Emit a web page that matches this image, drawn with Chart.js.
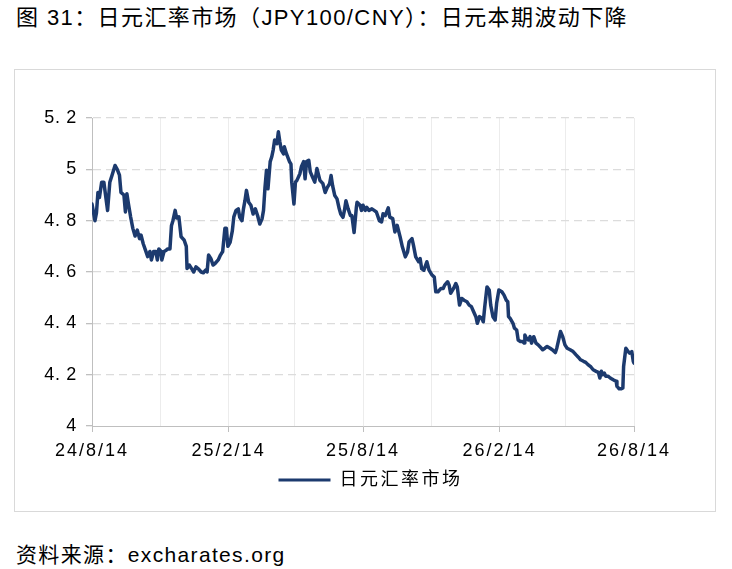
<!DOCTYPE html>
<html><head><meta charset="utf-8">
<script src="https://cdn.jsdelivr.net/npm/chart.js@4.4.1/dist/chart.umd.min.js"></script>
<style>
html,body{margin:0;padding:0;background:#fff;width:732px;height:569px;overflow:hidden;}
body{position:relative;font-family:"Liberation Sans","Noto Sans CJK SC",sans-serif;color:#000;}
#title{position:absolute;left:16px;top:5px;font-size:22px;line-height:25px;letter-spacing:1.4px;white-space:nowrap;}
#box{position:absolute;left:14px;top:69px;width:700px;height:441px;border:1px solid #d9d9d9;}
#src{position:absolute;left:16px;top:542px;font-size:21px;line-height:25px;letter-spacing:1.35px;white-space:nowrap;}
</style></head>
<body>
<div id="title">图 31：日元汇率市场（JPY100/CNY）：日元本期波动下降</div>
<div id="box"><canvas id="c"></canvas></div>
<div id="src">资料来源：excharates.org</div>
<script>
// ---- data ----
const seriesName = '日元汇率市场';
// days since 2024-08-14
const days = [0,4,6,8,10,13,16,18,21,24,27,31,34,37,39,43,45,47,49,52,55,58,61,64,66,69,72,75,78,80,83,86,88,90,93,94,97,100,102,105,107,109,112,114,117,120,124,127,128,131,134,137,140,144,147,150,153,155,157,160,163,166,170,173,176,179,181,183,186,189,191,194,197,199,202,204,206,208,211,214,217,220,223,226,229,231,233,235,237,240,242,244,246,249,251,253,255,258,259,262,266,268,269,272,274,276,280,282,285,287,289,292,294,297,300,303,307,311,314,317,320,322,324,327,330,333,335,338,340,342,345,348,350,353,356,357,361,363,365,368,370,373,377,380,383,387,390,392,395,399,401,405,408,411,415,418,422,425,427,431,433,436,440,442,444,447,451,454,458,461,463,466,470,473,475,479,481,483,487,490,492,495,498,501,505,508,511,514,517,519,522,525,527,529,532,535,537,540,543,545,548,552,555,558,560,561,563,567,569,572,574,577,580,582,583,585,588,590,592,595,598,601,603,607,610,613,617,620,624,626,628,631,634,637,640,644,648,652,655,658,662,665,668,672,675,679,682,684,686,688,690,692,695,698,702,706,707,710,713,715,716,719,722,724,727,729,730];
const rates = [4.865,4.80,4.83,4.91,4.89,4.95,4.95,4.905,4.84,4.95,4.977,5.015,5.0,4.977,4.91,4.90,4.834,4.905,4.867,4.815,4.77,4.74,4.763,4.73,4.744,4.71,4.685,4.66,4.68,4.647,4.68,4.68,4.647,4.69,4.68,4.647,4.68,4.685,4.69,4.69,4.78,4.80,4.84,4.81,4.815,4.737,4.725,4.70,4.614,4.627,4.614,4.60,4.62,4.61,4.60,4.597,4.607,4.60,4.666,4.653,4.627,4.634,4.647,4.666,4.68,4.77,4.77,4.70,4.715,4.76,4.815,4.84,4.846,4.813,4.80,4.846,4.878,4.918,4.872,4.86,4.826,4.846,4.82,4.787,4.807,4.84,4.93,4.996,4.924,5.03,5.048,5.075,5.114,5.10,5.146,5.107,5.075,5.06,5.088,5.06,5.03,5.02,4.95,4.865,4.95,4.957,4.983,5.01,5.03,4.963,5.03,5.035,4.99,4.97,4.95,5.003,4.957,4.944,4.91,4.93,4.944,4.976,4.937,4.898,4.885,4.846,4.826,4.813,4.84,4.878,4.846,4.82,4.82,4.754,4.85,4.872,4.86,4.84,4.86,4.84,4.852,4.84,4.846,4.84,4.834,4.80,4.795,4.827,4.82,4.85,4.814,4.808,4.756,4.782,4.737,4.698,4.659,4.678,4.717,4.73,4.704,4.659,4.64,4.652,4.613,4.607,4.64,4.607,4.588,4.58,4.523,4.523,4.536,4.536,4.549,4.562,4.549,4.517,4.536,4.555,4.542,4.471,4.497,4.49,4.484,4.471,4.465,4.445,4.426,4.40,4.426,4.42,4.406,4.465,4.542,4.53,4.471,4.426,4.413,4.478,4.53,4.523,4.51,4.49,4.484,4.426,4.42,4.40,4.381,4.374,4.335,4.329,4.329,4.323,4.355,4.342,4.335,4.348,4.323,4.348,4.323,4.316,4.31,4.297,4.303,4.31,4.303,4.297,4.286,4.303,4.329,4.368,4.348,4.316,4.303,4.297,4.29,4.277,4.268,4.258,4.252,4.248,4.239,4.23,4.219,4.213,4.209,4.187,4.213,4.20,4.206,4.194,4.194,4.187,4.18,4.174,4.155,4.145,4.145,4.148,4.232,4.303,4.29,4.284,4.29,4.252,4.245];
// x ticks (days since 2024-08-14) and their labels
const xTickDays = [0,92,184,273,365,457,549,638,730];
const xTickLabels = ['24/8/14','','25/2/14','','25/8/14','','26/2/14','','26/8/14'];
const yTickValues = [4,4.2,4.4,4.6,4.8,5,5.2];
const yTickLabels = ['4','4. 2','4. 4','4. 6','4. 8','5','5. 2'];

// ---- style ----
const lineColor = '#1c3a6e';
const fontFam = '"Liberation Sans","Noto Sans CJK SC",sans-serif';
const axisGray = '#bfbfbf';

function withSpacing(obj, method, sp){
  const orig = obj[method];
  obj[method] = function(...args){
    const c = this.ctx; c.save(); c.letterSpacing = sp;
    const r = orig.apply(this, args); c.restore(); return r;
  };
}
const spacingPlugin = {
  id: 'spacing',
  afterLayout(chart){
    if (!chart.$spPatched){
      chart.$spPatched = true;
      withSpacing(chart.scales.x, 'drawLabels', '2px');
      withSpacing(chart.scales.y, 'drawLabels', '0.7px');
      if (chart.legend) withSpacing(chart.legend, 'draw', '2.5px');
    }
  }
};

new Chart(document.getElementById('c'), {
  type: 'line',
  data: {
    datasets: [{
      label: seriesName,
      data: days.map((d, i) => ({x: d, y: rates[i]})),
      borderColor: lineColor,
      backgroundColor: lineColor,
      borderWidth: 3.5,
      pointRadius: 0,
      tension: 0,
      borderJoinStyle: 'round',
      borderCapStyle: 'round'
    }]
  },
  options: {
    responsive: true,
    maintainAspectRatio: false,
    animation: false,
    layout: {padding: {top: 48, right: 81, bottom: 12, left: 0}},
    plugins: {
      tooltip: {enabled: false},
      legend: {
        position: 'bottom',
        fullSize: false,
        labels: {
          boxWidth: 52, boxHeight: 3, padding: 10, color: '#000',
          font: {family: fontFam, size: 18},
          generateLabels: () => [{text: seriesName, fillStyle: lineColor, strokeStyle: lineColor, lineWidth: 0, hidden: false, datasetIndex: 0, fontColor: '#000'}]
        }
      }
    },
    scales: {
      x: {
        type: 'linear', min: xTickDays[0], max: xTickDays[xTickDays.length - 1],
        afterBuildTicks: s => { s.ticks = xTickDays.map(v => ({value: v})); },
        afterFit: s => { s.height = 35; },
        ticks: {autoSkip: false, maxRotation: 0, padding: 8, color: '#000',
          font: {family: fontFam, size: 18},
          callback: (v, i) => xTickLabels[i]},
        grid: {
          color: c => c.index === 0 ? 'rgba(0,0,0,0)' : '#ececec',
          lineWidth: 1,
          tickLength: 6,
          tickColor: c => xTickLabels[c.index] ? axisGray : 'rgba(0,0,0,0)'
        },
        border: {color: axisGray, width: 1}
      },
      y: {
        min: yTickValues[0], max: yTickValues[yTickValues.length - 1],
        afterBuildTicks: s => { s.ticks = yTickValues.map(v => ({value: v})); },
        afterFit: s => { s.width = 77; },
        ticks: {padding: 9, color: '#000', font: {family: fontFam, size: 18},
          callback: (v, i) => yTickLabels[i]},
        grid: {
          color: c => c.index === 0 ? 'rgba(0,0,0,0)' : '#dcdcdc',
          lineWidth: 1.3,
          tickLength: 6,
          tickColor: axisGray
        },
        border: {color: axisGray, width: 1, dash: [8, 5]}
      }
    }
  },
  plugins: [spacingPlugin]
});
</script>
</body></html>
